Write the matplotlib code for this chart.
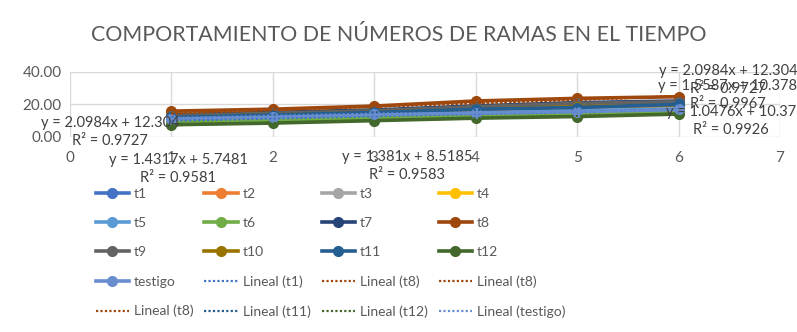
import numpy as np
import matplotlib
matplotlib.use("Agg")
from matplotlib import pyplot as plt

plt.rcParams['font.family'] = ['Lato', 'DejaVu Sans']

x = [1, 2, 3, 4, 5, 6]

# series values
names = ['t1', 't2', 't3', 't4', 't5', 't6', 't7', 't8', 't9', 't10', 't11', 't12', 'testigo']
values = [
    [10.5, 11.5, 12.8, 14.8, 15.6, 16.9],
    [11.0, 12.0, 13.0, 14.5, 13.0, 15.0],
    [13.0, 14.0, 15.5, 17.0, 18.0, 19.0],
    [14.0, 15.0, 16.5, 17.5, 19.0, 20.0],
    [11.0, 12.0, 13.0, 14.5, 16.0, 17.0],
    [9.0, 10.0, 11.5, 13.0, 14.5, 16.0],
    [13.5, 15.0, 16.5, 19.0, 21.0, 22.0],
    [15.8, 17.0, 18.9, 22.0, 23.6, 24.6],
    [13.0, 14.5, 16.0, 18.5, 20.5, 21.5],
    [12.0, 13.5, 15.0, 17.0, 18.5, 19.5],
    [12.0, 13.5, 15.0, 17.0, 18.0, 20.0],
    [7.5, 8.5, 10.0, 11.5, 12.5, 14.0],
    [11.2, 12.5, 13.8, 14.5, 15.5, 16.8],
]
colors = ['#4472C4', '#ED7D31', '#A5A5A5', '#FFC000', '#5B9BD5', '#70AD47',
          '#264478', '#9E480E', '#636363', '#997300', '#255E91', '#43682B', '#698ED0']

# linear trendlines shown on the chart
trend_of = ['t1', 't8', 't8', 't8', 't11', 't12', 'testigo']
slopes = [1.381, 2.0984, 2.0984, 2.0984, 1.5587, 1.4317, 1.0476]
intercepts = [8.5185, 12.304, 12.304, 12.304, 10.378, 5.7481, 10.37]
r2 = ['0.9583', '0.9727', '0.9727', '0.9727', '0.9967', '0.9581', '0.9926']
eq_text = ['y = 1.381x + 8.5185', 'y = 2.0984x + 12.304', 'y = 2.0984x + 12.304', None,
           'y = 1.5587x + 10.378', 'y = 1.4317x + 5.7481', 'y = 1.0476x + 10.37']
# label anchor (pixel from top-left of figure) for each equation
eq_pos = [(407, 157), (110, 123), (728, 71), None, (728, 86), (178, 160), (731, 112)]

W, H = 797, 332
fig = plt.figure(figsize=(W / 100, H / 100), dpi=100)
ax = fig.add_axes([70 / W, 1 - 137 / H, 710 / W, 65.5 / H])

handles = []
for name, vals, c in zip(names, values, colors):
    h, = ax.plot(x, vals, color=c, lw=2.6, marker='o', ms=7, label=name, zorder=3)
    handles.append(h)

xs = np.array(x, dtype=float)
for tname, m, b in zip(trend_of, slopes, intercepts):
    c = colors[names.index(tname)]
    h, = ax.plot(xs, m * xs + b, color=c, lw=1.6, ls=(0, (1, 1)), label='Lineal (%s)' % tname, zorder=4)
    handles.append(h)

for txt, rr, pos in zip(eq_text, r2, eq_pos):
    if txt is None:
        continue
    px, py = pos
    fig.text(px / W, 1 - py / H, txt, ha='center', va='center', fontsize=10.5, color='#404040')
    fig.text(px / W, 1 - (py + 18) / H, 'R² = ' + rr, ha='center', va='center', fontsize=10.5, color='#404040')

ax.set_xlim(0, 7)
ax.set_ylim(0, 40)
ax.set_xticks(range(0, 8))
ax.set_yticks([0, 20, 40])
ax.set_yticklabels(['%.2f' % v for v in [0, 20, 40]])
ax.grid(True, color='#D9D9D9', lw=1)
ax.set_axisbelow(True)
for s in ax.spines.values():
    s.set_visible(False)
ax.tick_params(length=0, labelsize=11, colors='#595959', pad=6)
ax.tick_params(axis='x', pad=10)

fig.text(0.5, 1 - 35 / H, 'COMPORTAMIENTO DE NÚMEROS DE RAMAS EN EL TIEMPO',
         ha='center', va='center', fontsize=15.4, color='#595959')

# Excel orders legend row by row; matplotlib fills columns first
ncol, nrow = 4, 5
order = [r * ncol + c for c in range(ncol) for r in range(nrow)]
leg = fig.legend([handles[i] for i in order], [handles[i].get_label() for i in order],
                 ncol=ncol, loc='upper left', bbox_to_anchor=(83 / W, 1 - 175 / H),
                 frameon=False, fontsize=10, handlelength=2.4, handletextpad=0.35,
                 columnspacing=0.8, labelspacing=1.25, labelcolor='#595959')

fig.savefig('out.png', dpi=100)
